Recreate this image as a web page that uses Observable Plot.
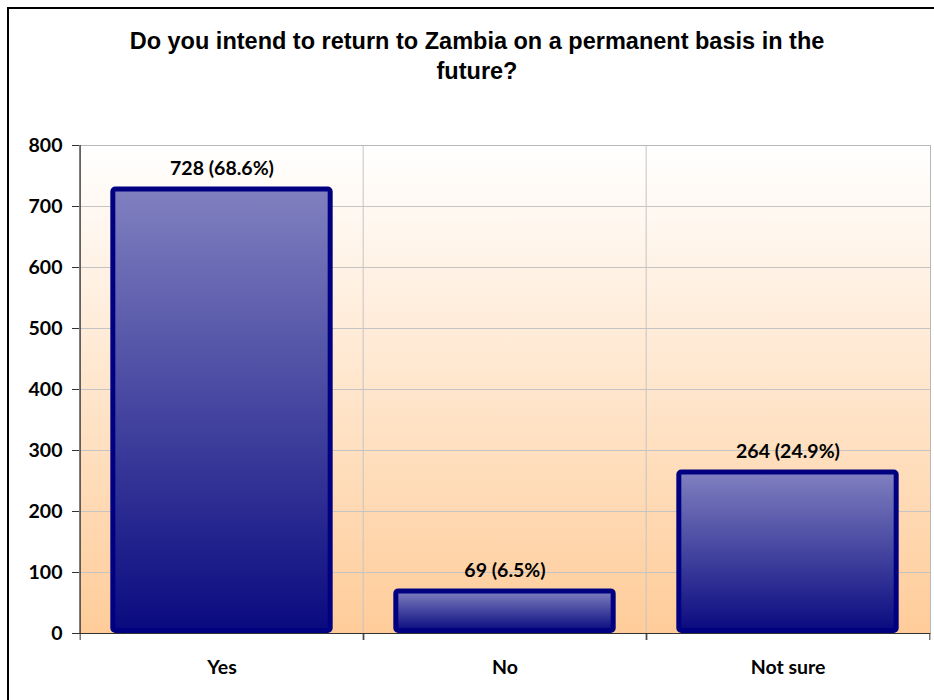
<!DOCTYPE html>
<html>
<head>
<meta charset="utf-8">
<script src="https://cdn.jsdelivr.net/npm/d3@7"></script>
<script src="https://cdn.jsdelivr.net/npm/@observablehq/plot@0.6"></script>
<style>
  html, body { margin: 0; padding: 0; background: #fff; overflow: hidden; }
  #wrap { position: relative; width: 934px; height: 700px; overflow: hidden; }
  #border { position: absolute; left: 7px; top: 7px; width: 1200px; height: 1200px;
            border-top: 2px solid #000; border-left: 2px solid #000; pointer-events: none; }
  #title { position: relative; height: 120px; box-sizing: border-box; padding-top: 26px; padding-left: 20px;
           width: 934px; text-align: center; font-family: "Liberation Sans", Arial, sans-serif;
           font-weight: bold; font-size: 23.5px; line-height: 30px; color: #000; white-space: nowrap; }
  #chart svg { display: block; }
</style>
</head>
<body>
<div id="wrap">
  <div id="border"></div>
  <div id="title">Do you intend to return to Zambia on a permanent basis in the<br>future?</div>
  <div id="chart"></div>
</div>
<script>
const categories = ["Yes", "No", "Not sure"];
const counts = [728, 69, 264];
const percents = ["68.6%", "6.5%", "24.9%"];
const yTicks = [0, 100, 200, 300, 400, 500, 600, 700, 800];

const data = categories.map((c, i) => ({cat: c, value: counts[i], label: `${counts[i]} (${percents[i]})`}));

const W = 934, H = 580, ML = 79, MR = 4, MT = 25, MB = 67;
const step = (W - ML - MR) / categories.length;
const inset = step * 0.1157;
const FS = 19.5;

const chart = Plot.plot({
  width: W, height: H,
  marginLeft: ML, marginRight: MR, marginTop: MT, marginBottom: MB,
  style: {fontFamily: "Lato, sans-serif", fontSize: FS + "px", fontWeight: "bold", color: "#000", background: "transparent", overflow: "visible"},
  x: {domain: categories, padding: 0, label: null},
  y: {domain: [0, 800], label: null},
  marks: [
    Plot.frame({fill: "url(#bgGrad)", stroke: "none"}),
    Plot.ruleY(yTicks.slice(1), {stroke: "#c4c4c4", strokeWidth: 1}),
    Plot.ruleX(categories.slice(1), {dx: -step / 2, stroke: "#c4c4c4", strokeWidth: 1}),
    Plot.frame({stroke: "#b8b8b8", fill: "none"}),
    Plot.barY(data, {x: "cat", y: "value", fill: "url(#barGrad)", stroke: "#000080", strokeWidth: 5,
      rx: 2.5, insetLeft: inset, insetRight: inset, insetBottom: 2.5}),
    Plot.ruleX([categories[0]], {dx: -step / 2, stroke: "#333", strokeWidth: 1.2}),
    Plot.ruleY([0], {stroke: "#333", strokeWidth: 1.2}),
    Plot.axisY({ticks: yTicks, tickSize: 7, tickPadding: 10, stroke: "#333", fontWeight: "bold", fontSize: FS, label: null}),
    Plot.axisX({tickSize: 7, tickFormat: () => "", dx: -step / 2, stroke: "#333", label: null}),
    Plot.axisX({tickSize: 7, tickFormat: () => "", dx: step / 2, stroke: "#333", label: null}),
    Plot.axisX({tickSize: 0, tickPadding: 27, fontWeight: "bold", fontSize: FS, label: null}),
    Plot.text(data, {x: "cat", y: "value", text: "label", lineAnchor: "bottom", dy: -14,
      fontWeight: "bold", fontSize: FS, fill: "#000"})
  ]
});

const defs = d3.select(chart).insert("defs", ":first-child");
const bg = defs.append("linearGradient").attr("id", "bgGrad").attr("x1", 0).attr("y1", 0).attr("x2", 0).attr("y2", 1);
bg.append("stop").attr("offset", "0%").attr("stop-color", "#ffffff");
bg.append("stop").attr("offset", "100%").attr("stop-color", "#ffcc99");
const bar = defs.append("linearGradient").attr("id", "barGrad").attr("x1", 0).attr("y1", 0).attr("x2", 0).attr("y2", 1);
bar.append("stop").attr("offset", "0%").attr("stop-color", "#8080c0");
bar.append("stop").attr("offset", "100%").attr("stop-color", "#0a0a80");

document.getElementById("chart").appendChild(chart);
</script>
</body>
</html>
